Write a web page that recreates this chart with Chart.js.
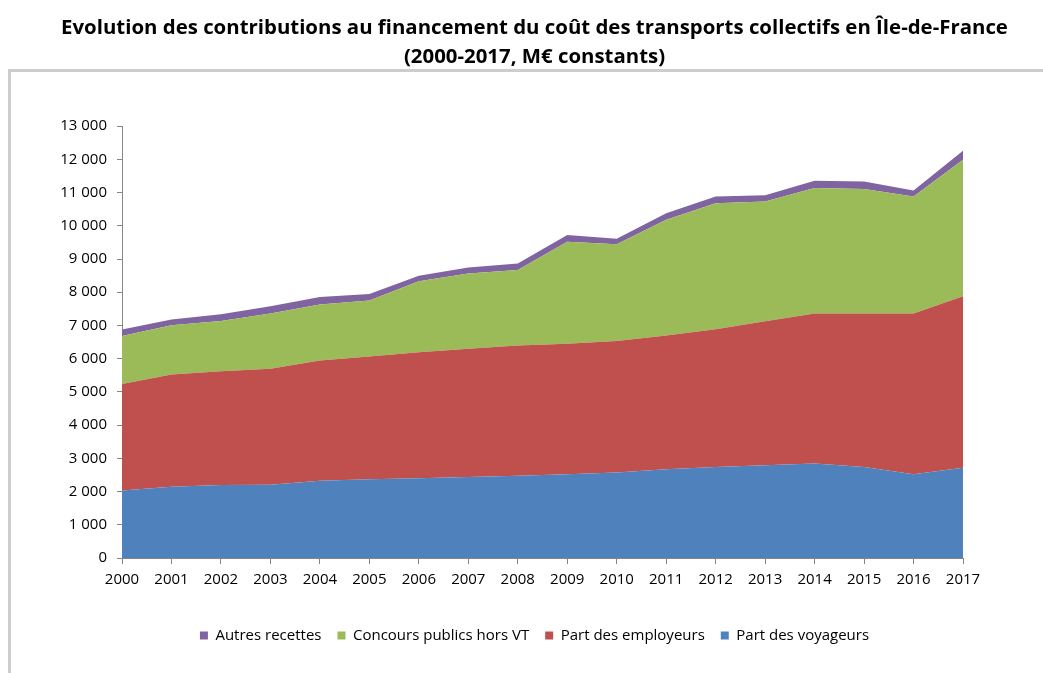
<!DOCTYPE html>
<html>
<head>
<meta charset="utf-8">
<script src="https://cdn.jsdelivr.net/npm/chart.js@4.4.1/dist/chart.umd.min.js"></script>
<style>
  html, body { margin: 0; padding: 0; background: #fff; }
  #wrap { position: relative; width: 1043px; height: 673px; overflow: hidden; }
  #frame { position: absolute; left: 8px; top: 69px; width: 1100px; height: 700px;
           border-left: 3px solid #cdcdcd; border-top: 3px solid #cdcdcd; }
  canvas { position: absolute; left: 0; top: 0; }
</style>
</head>
<body>
<div id="wrap">
  <div id="frame"></div>
  <canvas id="c" width="1043" height="673"></canvas>
</div>
<script>
const years = ['2000','2001','2002','2003','2004','2005','2006','2007','2008','2009','2010','2011','2012','2013','2014','2015','2016','2017'];
const partVoyageurs = [2035, 2146, 2197, 2207, 2328, 2368, 2398, 2439, 2479, 2519, 2570, 2670, 2741, 2791, 2842, 2741, 2519, 2720];
const partEmployeurs = [3205, 3376, 3425, 3486, 3617, 3699, 3799, 3859, 3919, 3930, 3960, 4030, 4142, 4333, 4514, 4615, 4837, 5160];
const concoursPublics = [1440, 1481, 1512, 1663, 1683, 1682, 2137, 2268, 2269, 3073, 2911, 3478, 3798, 3608, 3778, 3754, 3527, 4110];
const autresRecettes = [200, 175, 200, 220, 230, 195, 165, 180, 200, 200, 165, 200, 200, 185, 220, 220, 180, 270];
const seriesNames = ['Part des voyageurs', 'Part des employeurs', 'Concours publics hors VT', 'Autres recettes'];
const titleLines = ['Evolution des contributions au financement du coût des transports collectifs en Île-de-France', '(2000-2017, M€ constants)'];

const colors = ['#4F81BD', '#C0504D', '#9BBB59', '#8064A2'];
const values = [partVoyageurs, partEmployeurs, concoursPublics, autresRecettes];

Chart.defaults.font.family = "'Open Sans', 'DejaVu Sans', sans-serif";
Chart.defaults.color = '#000';

const datasets = values.map((v, i) => ({
  label: seriesNames[i],
  data: v,
  backgroundColor: colors[i],
  borderColor: colors[i],
  borderWidth: 0,
  pointRadius: 0,
  pointHoverRadius: 0,
  tension: 0,
  fill: i === 0 ? 'origin' : '-1'
}));

function fmt(v) {
  return String(v).replace(/\B(?=(\d{3})+(?!\d))/g, ' ');
}

new Chart(document.getElementById('c'), {
  type: 'line',
  data: { labels: years, datasets },
  options: {
    responsive: false,
    animation: false,
    devicePixelRatio: 1,
    layout: { padding: { left: 26, right: 0, top: 0, bottom: 20 } },
    plugins: {
      title: {
        display: true,
        text: titleLines,
        color: '#000',
        font: { size: 20.4, weight: 'bold', lineHeight: 1.4 },
        padding: { top: 14, bottom: 55 }
      },
      legend: {
        position: 'bottom',
        reverse: true,
        labels: {
          boxWidth: 8,
          boxHeight: 8,
          padding: 16,
          color: '#000',
          font: { size: 15 }
        }
      },
      tooltip: { enabled: false }
    },
    scales: {
      x: {
        offset: false,
        grid: { drawOnChartArea: false, drawTicks: true, tickLength: 6, color: '#868686' },
        border: { display: true, color: '#868686' },
        ticks: { padding: 7, font: { size: 15 }, color: '#000', maxRotation: 0, autoSkip: false },
        afterFit: s => { s.height = 54; }
      },
      y: {
        stacked: true,
        min: 0,
        max: 13000,
        grid: { drawOnChartArea: false, drawTicks: true, tickLength: 5, color: '#868686' },
        border: { display: true, color: '#868686' },
        ticks: { stepSize: 1000, padding: 10, font: { size: 15 }, color: '#000', callback: v => fmt(v) },
        afterFit: s => { s.width = 96; }
      },
      spacer: {
        type: 'linear',
        position: 'right',
        display: true,
        min: 0,
        max: 1,
        grid: { display: false },
        border: { display: false },
        ticks: { display: false },
        afterFit: s => { s.width = 80; }
      }
    }
  }
});
</script>
</body>
</html>
